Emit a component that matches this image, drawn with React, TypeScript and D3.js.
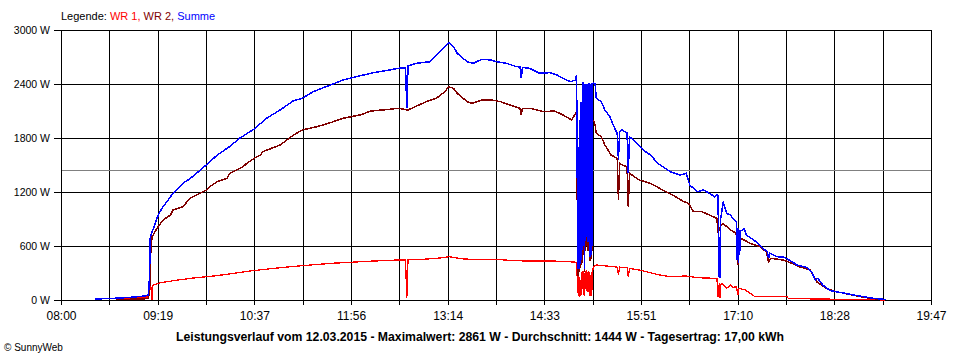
import React from 'react';
import * as d3 from 'd3';

// ---- data (time of day, watts) ----
const summeSeries: [string, number][] = [
  ["08:28",12],["08:40",16],["08:50",24],["09:00",33],["09:08",45],["09:11",55],["09:11:30",148],["09:12",300],["09:12:30",690],["09:13",720],["09:15",790],["09:18",910],["09:20",970],["09:23",1037],["09:27",1110],["09:31",1185],["09:39",1296],["09:45",1350],["09:50",1407],["09:58",1500],["10:07",1611],["10:17",1704],["10:25",1796],["10:37",1900],["10:47",2019],["10:58",2111],["11:09",2215],["11:16",2241],["11:25",2315],["11:39",2389],["11:49",2444],["12:00",2481],["12:14",2526],["12:27",2556],["12:34",2574],["12:40",2580],["12:41",2130],["12:42",2600],["12:49",2630],["13:00",2648],["13:05",2722],["13:13",2833],["13:15",2861],["13:19",2815],["13:22",2741],["13:30",2648],["13:35",2630],["13:42",2674],["13:49",2667],["13:54",2648],["14:02",2630],["14:10",2593],["14:13",2590],["14:14",2463],["14:15",2585],["14:21",2574],["14:29",2519],["14:37",2526],["14:43",2500],["14:48",2463],["14:54",2426],["14:58",2444],["14:59",2500],
  ["15:00:00",350],["15:00:20",1500],["15:00:40",400],["15:01:00",1700],["15:01:20",350],["15:01:40",2000],["15:02:00",400],["15:02:20",2200],["15:02:40",450],["15:03:00",2200],["15:03:20",600],["15:03:40",2400],["15:04:00",560],["15:04:20",2420],["15:04:40",600],["15:05:00",2400],["15:05:20",350],["15:05:40",2380],["15:06:00",660],["15:06:20",2400],["15:06:40",2390],["15:07:00",700],["15:07:20",2400],["15:07:40",1400],["15:08:00",2390],["15:08:20",640],["15:08:40",2400],["15:09:00",2395],["15:09:20",2400],["15:09:40",2390],["15:10:00",480],["15:10:20",2400],["15:10:40",500],["15:11:00",2390],["15:11:20",600],["15:11:40",2400],["15:12:00",2400],["15:13:00",2410],["15:14:00",2400],
  ["15:15",2241],["15:19",2204],["15:22",2111],["15:26",2037],["15:30",1907],["15:32",1852],["15:33",1556],["15:34",1870],["15:36",1889],["15:38",1870],["15:40",1860],["15:41",1407],["15:42",1815],["15:48",1741],["15:53",1667],["15:59",1611],["16:05",1519],["16:15",1426],["16:23",1389],["16:28",1407],["16:31",1278],["16:37",1204],["16:42",1222],["16:47",1185],["16:51",1148],["16:53",1167],["16:54",1160],["16:54:30",260],["16:55",700],["16:55:30",241],["16:56",900],["16:57",981],["16:58",1093],["17:01",963],["17:04",944],["17:06",907],["17:08",880],["17:09",870],["17:09:30",450],["17:10",800],["17:10:30",407],["17:11",780],["17:11:30",500],["17:12",760],["17:15",796],["17:17",722],["17:23",667],["17:28",611],["17:32",556],["17:34",540],["17:35",463],["17:36",519],["17:42",481],["17:48",474],["17:54",426],["17:58",389],["18:06",363],["18:10",315],["18:13",222],["18:15",241],["18:19",167],["18:25",104],["18:33",85],["18:44",56],["18:52",37],["19:00",19],["19:08",8],["19:10",0]
];

const wr1Series: [string, number][] = [
  ["08:45",5],["08:55",12],["09:00",30],["09:11",35],["09:11:30",145],["09:13",150],["09:14",0],["09:14:30",165],["09:18",180],["09:20",190],["09:34",220],["09:48",245],["10:01",262],["10:15",285],["10:31",318],["10:42",335],["10:58",359],["11:16",381],["11:39",407],["11:55",419],["12:14",433],["12:33",444],["12:40",444],["12:41",19],["12:42",446],["12:54",452],["13:08",467],["13:15",481],["13:27",456],["13:40",448],["13:54",452],["14:08",437],["14:21",433],["14:37",433],["14:48",430],["14:59",419],
  ["15:00:00",80],["15:00:20",300],["15:00:40",40],["15:01:00",260],["15:01:20",37],["15:01:40",220],["15:02:00",40],["15:02:20",200],["15:02:40",60],["15:03:00",310],["15:03:20",120],["15:03:40",320],["15:04:00",150],["15:04:20",320],["15:04:40",60],["15:05:00",300],["15:05:20",40],["15:05:40",300],["15:06:00",120],["15:06:20",310],["15:06:40",315],["15:07:00",100],["15:07:20",300],["15:07:40",250],["15:08:00",310],["15:08:20",90],["15:08:40",320],["15:09:00",310],["15:09:20",300],["15:09:40",310],["15:10:00",50],["15:10:20",280],["15:10:40",40],["15:11:00",300],["15:11:20",60],["15:11:40",320],["15:12:00",330],["15:13:00",370],["15:14:00",385],
  ["15:15",389],["15:23",378],["15:30",370],["15:32",363],["15:33",278],["15:34",365],["15:40",360],["15:41",259],["15:42",350],["15:50",333],["16:04",285],["16:15",259],["16:28",267],["16:37",248],["16:51",241],["16:53",240],["16:54",37],["16:55",190],["16:55:30",22],["16:56",170],["16:57",185],["17:01",130],["17:04",167],["17:06",141],["17:09",148],["17:10",56],["17:11",130],["17:16",111],["17:20",74],["17:24",37],["17:50",37],["17:51",19],["18:14",11],["18:55",5],["19:10",0]
];

const wr2Series: [string, number][] = [
  ["08:45",3],["09:11",15],["09:12",100],["09:13",540],["09:14",700],["09:18",796],["09:23",889],["09:29",944],["09:31",1000],["09:39",1037],["09:45",1130],["09:53",1185],["09:58",1222],["10:01",1259],["10:07",1315],["10:15",1352],["10:17",1407],["10:28",1481],["10:31",1519],["10:37",1574],["10:42",1611],["10:44",1648],["10:58",1722],["11:09",1833],["11:16",1889],["11:28",1926],["11:39",1970],["11:49",2019],["12:03",2056],["12:12",2100],["12:27",2119],["12:34",2130],["12:42",2111],["12:49",2156],["12:57",2204],["13:05",2241],["13:12",2315],["13:15",2370],["13:19",2352],["13:22",2296],["13:30",2204],["13:34",2185],["13:42",2222],["13:50",2222],["13:57",2204],["14:05",2167],["14:13",2130],["14:14",2056],["14:15",2130],["14:21",2130],["14:32",2093],["14:41",2100],["14:48",2056],["14:55",2000],["14:59",2093],
  ["15:00:00",270],["15:00:20",1200],["15:00:40",360],["15:01:00",1440],["15:01:20",313],["15:01:40",1780],["15:02:00",360],["15:02:20",2000],["15:02:40",390],["15:03:00",1890],["15:03:20",480],["15:03:40",2080],["15:04:00",410],["15:04:20",2100],["15:04:40",540],["15:05:00",2100],["15:05:20",310],["15:05:40",2080],["15:06:00",540],["15:06:20",2000],["15:06:40",1980],["15:07:00",600],["15:07:20",1980],["15:07:40",1150],["15:08:00",1980],["15:08:20",550],["15:08:40",1990],["15:09:00",1985],["15:09:20",1444],["15:09:40",1980],["15:10:00",430],["15:10:20",2000],["15:10:40",460],["15:11:00",1990],["15:11:20",540],["15:11:40",2000],["15:12:00",2000],["15:13:00",1990],["15:14:00",1944],
  ["15:15",1852],["15:19",1815],["15:22",1722],["15:27",1611],["15:32",1574],["15:33",1111],["15:34",1520],["15:36",1500],["15:40",1481],["15:41",1037],["15:42",1407],["15:50",1333],["15:59",1296],["16:09",1222],["16:18",1159],["16:26",1093],["16:30",1074],["16:34",981],["16:41",981],["16:47",944],["16:53",907],["16:54",741],["16:55",800],["16:58",852],["17:04",778],["17:08",748],["17:09",722],["17:10",389],["17:10:30",700],["17:15",667],["17:20",630],["17:28",593],["17:33",537],["17:35",426],["17:37",463],["17:47",444],["17:54",407],["18:00",370],["18:09",333],["18:14",204],["18:22",130],["18:30",93],["18:52",30],["19:08",3]
];

const yTicks = [0, 600, 1200, 1800, 2400, 3000];
const xTickLabels = ["08:00", "09:19", "10:37", "11:56", "13:14", "14:33", "15:51", "17:10", "18:28", "19:47"];
const averageWatt = 1444;
const dayStart = "08:00";
const dayEnd = "19:47";
const titleText = "Leistungsverlauf vom 12.03.2015 - Maximalwert: 2861 W - Durchschnitt: 1444 W - Tagesertrag: 17,00 kWh";
const copyrightText = "\u00A9 SunnyWeb";

const parseT = (s: string) => {
  const p = s.split(':').map(Number);
  return p[0] * 60 + p[1] + (p[2] || 0) / 60;
};

export default function App() {
  const W = 960, H = 360;
  const x = d3.scaleLinear().domain([parseT(dayStart), parseT(dayEnd)]).range([61, 931]);
  const y = d3.scaleLinear().domain([0, 3000]).range([300, 30]);
  const line = d3.line<[string, number]>().x(d => x(parseT(d[0]))).y(d => y(d[1]));
  const snap = (v: number) => Math.round(v) + 0.5;
  const t0 = parseT(dayStart), t1 = parseT(dayEnd);
  const gridTimes = d3.range(19).map(i => t0 + (i * (t1 - t0)) / 18);
  const font = "'Liberation Sans', Arial, sans-serif";

  return (
    <svg width={W} height={H} style={{ position: 'absolute', left: 0, top: 0, background: '#fff' }} fontFamily={font}>
      <rect x={0} y={0} width={W} height={H} fill="#fff" />
      {/* legend */}
      <text x={61} y={20} fontSize={11}>
        <tspan fill="#000">Legende: </tspan>
        <tspan fill="#ff0000">WR 1, </tspan>
        <tspan fill="#800000">WR 2, </tspan>
        <tspan fill="#0000ff">Summe</tspan>
      </text>
      {/* horizontal grid + y ticks */}
      {yTicks.map(v => (
        <g key={'y' + v}>
          <line x1={54} x2={931} y1={snap(y(v))} y2={snap(y(v))} stroke="#000" strokeWidth={1} shapeRendering="crispEdges" />
          <text x={50} y={y(v) + 4} fontSize={10.5} textAnchor="end">{v} W</text>
        </g>
      ))}
      {/* vertical grid + x ticks */}
      {gridTimes.map((t, i) => (
        <line key={'x' + i} x1={snap(x(t))} x2={snap(x(t))} y1={30} y2={305} stroke="#000" strokeWidth={1} shapeRendering="crispEdges" />
      ))}
      {xTickLabels.map((lab, i) => (
        <text key={lab} x={x(gridTimes[i * 2]) + 0.5} y={320} fontSize={12} textAnchor="middle">{lab}</text>
      ))}
      {/* average line */}
      <line x1={62} x2={931} y1={snap(y(averageWatt))} y2={snap(y(averageWatt))} stroke="#808080" strokeWidth={1} shapeRendering="crispEdges" />
      {/* series */}
      <path d={line(wr1Series) || ''} fill="none" stroke="#ff0000" strokeWidth={1.3} shapeRendering="crispEdges" />
      <path d={line(wr2Series) || ''} fill="none" stroke="#800000" strokeWidth={1.5} shapeRendering="crispEdges" />
      <path d={line(summeSeries) || ''} fill="none" stroke="#0000ff" strokeWidth={1.5} shapeRendering="crispEdges" />
      {/* title */}
      <text x={480} y={341} fontSize={12.5} fontWeight="bold" textAnchor="middle" textLength={608} lengthAdjust="spacingAndGlyphs"
        fontFamily="'Liberation Sans Narrow', 'Arial Narrow', 'Liberation Sans', Arial, sans-serif">{titleText}</text>
      <text x={4} y={351} fontSize={10}>{copyrightText}</text>
    </svg>
  );
}
